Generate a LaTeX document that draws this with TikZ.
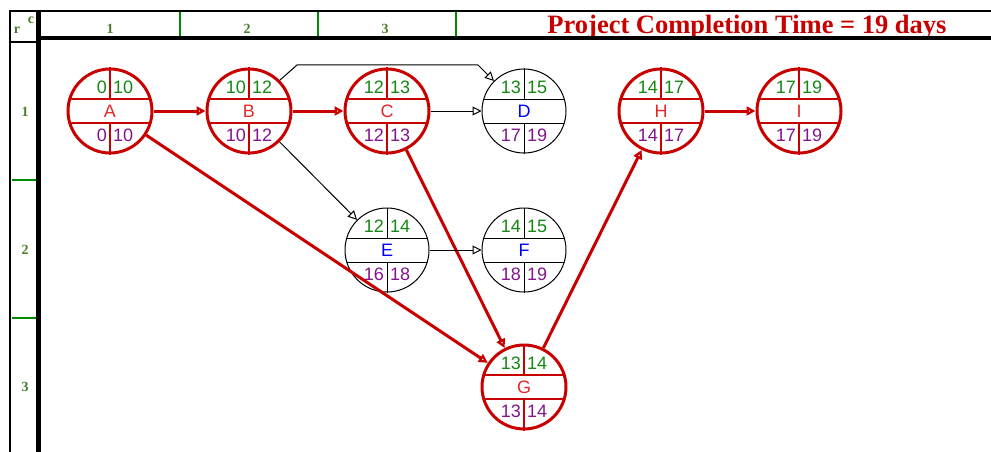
\documentclass[tikz,border=0pt]{standalone}
\usepackage{fontspec}
\setmainfont{Liberation Serif}
\newfontfamily\numfont{Liberation Sans}
\usepackage{xcolor}
\usepackage{tikz}
\usetikzlibrary{arrows.meta}

\definecolor{critred}{RGB}{200,0,0}
\definecolor{letred}{RGB}{225,40,40}
\definecolor{esgreen}{RGB}{20,135,20}
\definecolor{lspurple}{RGB}{130,20,140}
\definecolor{hdrgreen}{RGB}{70,125,40}
\definecolor{gridgreen}{RGB}{0,140,0}

\begin{document}
\begin{tikzpicture}[x=1pt,y=-1pt]
        \useasboundingbox (0,0) rectangle (991,452);
        % header and row labels
        \node[anchor=base,text=critred,font=\fontsize{26.5}{30}\selectfont\bfseries] (title) at (747,34) {Project Completion Time = 19 days};
        \begin{scope}[every node/.style={text=hdrgreen,font=\fontsize{14}{16}\selectfont\bfseries,inner sep=0pt}]
          \node (rlab) at (17,30) {r};
          \node (clab) at (31,20) {c};
          \node (col1) at (110,29) {1};
          \node (col2) at (247,29) {2};
          \node (col3) at (385,29) {3};
          \node (row1) at (25,112) {1};
          \node (row2) at (25,250) {2};
          \node (row3) at (25,387) {3};
        \end{scope}
        \draw[gridgreen,line width=1.5pt] (180,12) -- (180,37) (318,12) -- (318,37) (456,12) -- (456,37);
        \draw[gridgreen,line width=1.5pt] (12,180) -- (37,180) (12,318) -- (37,318);
        \draw[line width=2.5pt] (9,11) -- (991,11);
        \draw[line width=4pt] (38,38.5) -- (991,38.5);
        \draw[line width=1.5pt] (10,42) -- (38,42);
        \draw[line width=2pt] (10,11) -- (10,452);
        \draw[line width=4.5pt] (38.5,11) -- (38.5,452);
        % activities
        \begin{scope}[every node/.style={draw=critred,line width=3pt,circle,minimum size=84pt,inner sep=0pt,text=letred,font=\numfont\fontsize{18}{20}\selectfont}]
          \node (A) at (110,111) {A};
          \node (B) at (249,111) {B};
          \node (C) at (387,111) {C};
          \node (G) at (524,387) {G};
          \node (H) at (661,111) {H};
          \node (I) at (799,111) {I};
        \end{scope}
        \begin{scope}[every node/.style={draw=black,line width=1pt,circle,minimum size=84pt,inner sep=0pt,text=blue,font=\numfont\fontsize{18}{20}\selectfont}]
          \node (D) at (524,111) {D};
          \node (E) at (387,250) {E};
          \node (F) at (524,250) {F};
        \end{scope}
        \foreach \n/\es/\ef/\ls/\lf/\col/\lw in {A/0/10/0/10/critred/2,B/10/12/10/12/critred/2,C/12/13/12/13/critred/2,D/13/15/17/19/black/1,E/12/14/16/18/black/1,F/14/15/18/19/black/1,G/13/14/13/14/critred/2,H/14/17/14/17/critred/2,I/17/19/17/19/critred/2}{
          \draw[draw=\col,line width=\lw pt] ([xshift=-40.2pt,yshift=12pt]\n.center) -- ([xshift=40.2pt,yshift=12pt]\n.center)
            ([xshift=-40.2pt,yshift=-12pt]\n.center) -- ([xshift=40.2pt,yshift=-12pt]\n.center)
            (\n.north) -- ([yshift=12pt]\n.center) ([yshift=-12pt]\n.center) -- (\n.south);
          \begin{scope}[every node/.style={inner sep=0pt,font=\numfont\fontsize{18}{20}\selectfont}]
            \node[text=esgreen,anchor=base east] at ([xshift=-3pt,yshift=18pt]\n.center) {\es};
            \node[text=esgreen,anchor=base west] at ([xshift=3pt,yshift=18pt]\n.center) {\ef};
            \node[text=lspurple,anchor=base east] at ([xshift=-3pt,yshift=-30pt]\n.center) {\ls};
            \node[text=lspurple,anchor=base west] at ([xshift=3pt,yshift=-30pt]\n.center) {\lf};
          \end{scope}
        }
        % precedence links
        \begin{scope}[every edge/.style={draw=critred,line width=3pt,-{Triangle[open,length=9pt,width=9pt]}}]
          \path (A) edge (B);
          \path (B) edge (C);
          \path (A) edge (G);
          \path (C) edge (G);
          \path (G) edge (H);
          \path (H) edge (I);
        \end{scope}
        \begin{scope}[every edge/.style={draw=black,line width=1pt,-{Triangle[open,length=9pt,width=9pt]}}]
          \path (C) edge (D);
          \path (B) edge (E);
          \path (E) edge (F);
          %\path (B) edge (D);
        \end{scope}
        \draw[line width=1pt,-{Triangle[open,length=9pt,width=9pt]}] (B.45) -- (297,65) -- (478,65) -- (D.135);
      \end{tikzpicture}
\end{document}
